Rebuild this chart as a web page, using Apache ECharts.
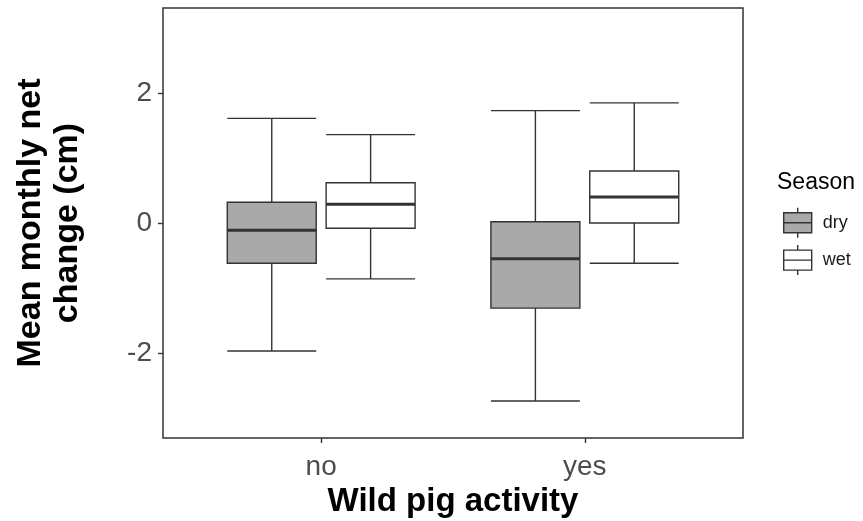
<!DOCTYPE html>
<html>
<head>
<meta charset="UTF-8">
<title>Wild pig activity</title>
<script src="https://cdn.jsdelivr.net/npm/echarts@6.0.0/dist/echarts.min.js"></script>
</head>
<body style="margin:0">
	<div id="main" style="width: 863px; height: 521px;"></div>
	<script type="text/javascript">
		// data: [lower whisker, Q1, median, Q3, upper whisker]
		var categories = ['no', 'yes'];
		var seasons = ['dry', 'wet'];
		var dryStats = [[-1.97, -0.62, -0.11, 0.32, 1.61], [-2.74, -1.31, -0.55, 0.02, 1.73]];
		var wetStats = [[-0.86, -0.08, 0.29, 0.62, 1.36], [-0.62, 0.00, 0.40, 0.80, 1.85]];
		var yTicks = [-2, 0, 2];

		var fills = { dry: '#A9A9A9', wet: '#FFFFFF' };
		var dodge = 0.1875, boxWidth = 0.3375;
		var boxIcon = 'path://M14,0L14,5M0,5L28,5L28,25L0,25ZM0,15L28,15M14,25L14,30';

		function toData(stats, offset) {
			return stats.map(function (s, i) {
				return [i + 1 + offset].concat(s);
			});
		}

		// draw one box: whisker, caps, box, median
		function renderBox(params, api) {
			var x = api.value(0);
			var half = api.size([boxWidth, 0])[0] / 2;
			var lo = api.coord([x, api.value(1)]);
			var q1 = api.coord([x, api.value(2)]);
			var md = api.coord([x, api.value(3)]);
			var q3 = api.coord([x, api.value(4)]);
			var hi = api.coord([x, api.value(5)]);
			var cx = lo[0];
			var stroke = { stroke: '#333333', lineWidth: 1.4 };
			return {
				type: 'group',
				children: [
					{ type: 'line', shape: { x1: cx, y1: hi[1], x2: cx, y2: q3[1] }, style: stroke },
					{ type: 'line', shape: { x1: cx, y1: q1[1], x2: cx, y2: lo[1] }, style: stroke },
					{ type: 'line', shape: { x1: cx - half, y1: hi[1], x2: cx + half, y2: hi[1] }, style: stroke },
					{ type: 'line', shape: { x1: cx - half, y1: lo[1], x2: cx + half, y2: lo[1] }, style: stroke },
					{ type: 'rect', shape: { x: cx - half, y: q3[1], width: half * 2, height: q1[1] - q3[1] },
						style: { fill: api.visual('color'), stroke: '#333333', lineWidth: 1.4 } },
					{ type: 'line', shape: { x1: cx - half, y1: md[1], x2: cx + half, y2: md[1] },
						style: { stroke: '#333333', lineWidth: 3 } }
				]
			};
		}

		var myChart = echarts.init(document.getElementById('main'));
		var option = {
			animation: false,
			textStyle: { fontFamily: 'Liberation Sans, Arial, sans-serif' },
			title: {
				text: 'Season',
				left: 777,
				top: 171,
				padding: 0,
				textStyle: { fontSize: 23, fontWeight: 'normal', color: '#000' }
			},
			legend: {
				orient: 'vertical',
				left: 783,
				top: 207,
				padding: 0,
				itemWidth: 28,
				itemHeight: 30,
				itemGap: 6,
				textStyle: { fontSize: 18, color: '#1a1a1a', padding: [0, 0, 0, 6] },
				data: seasons.map(function (s) {
					return {
						name: s,
						icon: boxIcon,
						itemStyle: { color: fills[s], borderColor: '#333333', borderWidth: 1.4 }
					};
				})
			},
			grid: {
				left: 163,
				right: 120,
				top: 8,
				bottom: 83,
				show: true,
				borderColor: '#333333',
				borderWidth: 1.5,
				containLabel: false,
				outerBoundsMode: 'none'
			},
			xAxis: {
				type: 'value',
				min: 0.4,
				max: 2.6,
				name: 'Wild pig activity',
				nameLocation: 'middle',
				nameGap: 46,
				nameTextStyle: { fontSize: 33, fontWeight: 'bold', color: '#000' },
				axisLine: { show: false, onZero: false },
				splitLine: { show: false },
				axisTick: { show: true, length: 5, customValues: [1, 2], lineStyle: { color: '#333333', width: 1.4 } },
				axisLabel: {
					customValues: [1, 2],
					fontSize: 28,
					color: '#4D4D4D',
					margin: 15,
					formatter: function (v) { return categories[Math.round(v) - 1]; }
				}
			},
			yAxis: {
				type: 'value',
				min: -3.31,
				max: 3.31,
				name: 'Mean monthly net\nchange (cm)',
				nameLocation: 'middle',
				nameGap: 77,
				nameTextStyle: { fontSize: 34, fontWeight: 'bold', color: '#000', lineHeight: 37 },
				axisLine: { show: false, onZero: false },
				splitLine: { show: false },
				axisTick: { show: true, length: 5, customValues: yTicks, lineStyle: { color: '#333333', width: 1.4 } },
				axisLabel: {
					customValues: yTicks,
					fontSize: 28,
					color: '#4D4D4D',
					margin: 11
				}
			},
			series: [{
				name: 'dry',
				type: 'custom',
				renderItem: renderBox,
				itemStyle: { color: fills.dry, borderColor: '#333333' },
				encode: { x: 0, y: [1, 2, 3, 4, 5] },
				data: toData(dryStats, -dodge)
			}, {
				name: 'wet',
				type: 'custom',
				renderItem: renderBox,
				itemStyle: { color: fills.wet, borderColor: '#333333' },
				encode: { x: 0, y: [1, 2, 3, 4, 5] },
				data: toData(wetStats, dodge)
			}]
		};
		myChart.setOption(option);
	</script>
</body>
</html>
